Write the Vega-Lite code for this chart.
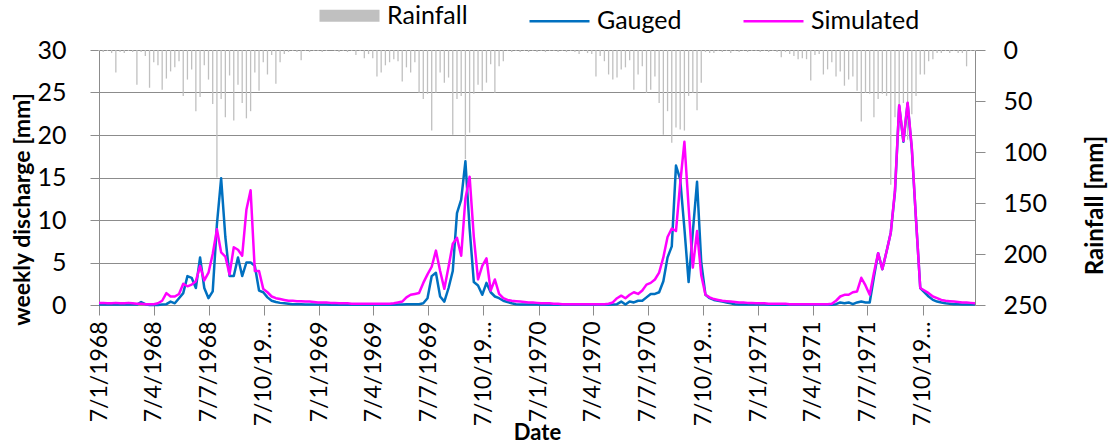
{
  "$schema": "https://vega.github.io/schema/vega-lite/v6.json",
  "width": 876,
  "height": 255,
  "autosize": {"type": "none"},
  "padding": {"left": 99, "top": 50, "right": 141, "bottom": 141},
  "background": "white",
  "config": {
    "font": "Lato",
    "view": {"stroke": null},
    "axis": {
      "domainColor": "#8c8c8c",
      "tickColor": "#8c8c8c",
      "gridColor": "#8c8c8c",
      "labelColor": "#000000",
      "titleColor": "#000000",
      "labelFont": "Lato",
      "titleFont": "Lato"
    }
  },
  "data": {
    "values": [
      {"date": "1968-01-07", "gauged": 0.05, "simulated": 0.25, "rain": 1},
      {"date": "1968-01-14", "gauged": 0.05, "simulated": 0.25, "rain": 2},
      {"date": "1968-01-21", "gauged": 0.05, "simulated": 0.2, "rain": 1},
      {"date": "1968-01-28", "gauged": 0.05, "simulated": 0.2, "rain": 3},
      {"date": "1968-02-04", "gauged": 0.05, "simulated": 0.25, "rain": 22},
      {"date": "1968-02-11", "gauged": 0.05, "simulated": 0.2, "rain": 2},
      {"date": "1968-02-18", "gauged": 0.1, "simulated": 0.2, "rain": 3},
      {"date": "1968-02-25", "gauged": 0.05, "simulated": 0.25, "rain": 1},
      {"date": "1968-03-03", "gauged": 0.05, "simulated": 0.2, "rain": 2},
      {"date": "1968-03-10", "gauged": 0.05, "simulated": 0.15, "rain": 34},
      {"date": "1968-03-17", "gauged": 0.35, "simulated": 0.15, "rain": 2},
      {"date": "1968-03-24", "gauged": 0.1, "simulated": 0.1, "rain": 6},
      {"date": "1968-03-31", "gauged": 0.0, "simulated": 0.1, "rain": 37},
      {"date": "1968-04-07", "gauged": 0.0, "simulated": 0.1, "rain": 12},
      {"date": "1968-04-14", "gauged": 0.0, "simulated": 0.2, "rain": 15},
      {"date": "1968-04-21", "gauged": 0.05, "simulated": 0.5, "rain": 39},
      {"date": "1968-04-28", "gauged": 0.1, "simulated": 1.4, "rain": 28},
      {"date": "1968-05-05", "gauged": 0.4, "simulated": 1.0, "rain": 21},
      {"date": "1968-05-12", "gauged": 0.2, "simulated": 1.0, "rain": 17},
      {"date": "1968-05-19", "gauged": 0.8, "simulated": 1.3, "rain": 11},
      {"date": "1968-05-26", "gauged": 1.4, "simulated": 2.5, "rain": 45},
      {"date": "1968-06-02", "gauged": 3.4, "simulated": 2.2, "rain": 29},
      {"date": "1968-06-09", "gauged": 3.2, "simulated": 2.4, "rain": 19},
      {"date": "1968-06-16", "gauged": 2.0, "simulated": 2.8, "rain": 60},
      {"date": "1968-06-23", "gauged": 5.6, "simulated": 4.6, "rain": 46},
      {"date": "1968-06-30", "gauged": 2.0, "simulated": 2.9, "rain": 15},
      {"date": "1968-07-07", "gauged": 0.8, "simulated": 3.8, "rain": 29},
      {"date": "1968-07-14", "gauged": 1.6, "simulated": 6.0, "rain": 53},
      {"date": "1968-07-21", "gauged": 9.5, "simulated": 8.9, "rain": 125},
      {"date": "1968-07-28", "gauged": 14.9, "simulated": 6.2, "rain": 48},
      {"date": "1968-08-04", "gauged": 8.0, "simulated": 5.7, "rain": 66},
      {"date": "1968-08-11", "gauged": 3.4, "simulated": 3.6, "rain": 25},
      {"date": "1968-08-18", "gauged": 3.4, "simulated": 6.8, "rain": 69},
      {"date": "1968-08-25", "gauged": 5.6, "simulated": 6.5, "rain": 34},
      {"date": "1968-09-01", "gauged": 3.4, "simulated": 5.8, "rain": 52},
      {"date": "1968-09-08", "gauged": 5.0, "simulated": 11.2, "rain": 67},
      {"date": "1968-09-15", "gauged": 5.0, "simulated": 13.5, "rain": 60},
      {"date": "1968-09-22", "gauged": 4.6, "simulated": 4.0, "rain": 22},
      {"date": "1968-09-29", "gauged": 1.7, "simulated": 4.0, "rain": 40},
      {"date": "1968-10-06", "gauged": 1.5, "simulated": 1.9, "rain": 12},
      {"date": "1968-10-13", "gauged": 0.9, "simulated": 1.5, "rain": 24},
      {"date": "1968-10-20", "gauged": 0.5, "simulated": 1.0, "rain": 5},
      {"date": "1968-10-27", "gauged": 0.35, "simulated": 0.8, "rain": 33},
      {"date": "1968-11-03", "gauged": 0.25, "simulated": 0.7, "rain": 12},
      {"date": "1968-11-10", "gauged": 0.2, "simulated": 0.6, "rain": 4},
      {"date": "1968-11-17", "gauged": 0.15, "simulated": 0.5, "rain": 2},
      {"date": "1968-11-24", "gauged": 0.1, "simulated": 0.5, "rain": 1},
      {"date": "1968-12-01", "gauged": 0.1, "simulated": 0.45, "rain": 2},
      {"date": "1968-12-08", "gauged": 0.1, "simulated": 0.45, "rain": 10},
      {"date": "1968-12-15", "gauged": 0.05, "simulated": 0.4, "rain": 1},
      {"date": "1968-12-22", "gauged": 0.05, "simulated": 0.4, "rain": 2},
      {"date": "1968-12-29", "gauged": 0.05, "simulated": 0.35, "rain": 1},
      {"date": "1969-01-05", "gauged": 0.05, "simulated": 0.3, "rain": 1},
      {"date": "1969-01-12", "gauged": 0.05, "simulated": 0.3, "rain": 2},
      {"date": "1969-01-19", "gauged": 0.05, "simulated": 0.3, "rain": 1},
      {"date": "1969-01-26", "gauged": 0.03, "simulated": 0.25, "rain": 0},
      {"date": "1969-02-02", "gauged": 0.03, "simulated": 0.25, "rain": 1},
      {"date": "1969-02-09", "gauged": 0.02, "simulated": 0.2, "rain": 2},
      {"date": "1969-02-16", "gauged": 0.02, "simulated": 0.2, "rain": 1},
      {"date": "1969-02-23", "gauged": 0.02, "simulated": 0.2, "rain": 2},
      {"date": "1969-03-02", "gauged": 0.02, "simulated": 0.15, "rain": 1},
      {"date": "1969-03-09", "gauged": 0.02, "simulated": 0.15, "rain": 5},
      {"date": "1969-03-16", "gauged": 0.02, "simulated": 0.15, "rain": 1},
      {"date": "1969-03-23", "gauged": 0.02, "simulated": 0.15, "rain": 8},
      {"date": "1969-03-30", "gauged": 0.02, "simulated": 0.15, "rain": 4},
      {"date": "1969-04-06", "gauged": 0.02, "simulated": 0.15, "rain": 8},
      {"date": "1969-04-13", "gauged": 0.02, "simulated": 0.15, "rain": 26},
      {"date": "1969-04-20", "gauged": 0.02, "simulated": 0.15, "rain": 22},
      {"date": "1969-04-27", "gauged": 0.02, "simulated": 0.15, "rain": 15},
      {"date": "1969-05-04", "gauged": 0.02, "simulated": 0.15, "rain": 12},
      {"date": "1969-05-11", "gauged": 0.02, "simulated": 0.2, "rain": 9},
      {"date": "1969-05-18", "gauged": 0.05, "simulated": 0.3, "rain": 11},
      {"date": "1969-05-25", "gauged": 0.05, "simulated": 0.4, "rain": 31},
      {"date": "1969-06-01", "gauged": 0.1, "simulated": 0.9, "rain": 17},
      {"date": "1969-06-08", "gauged": 0.1, "simulated": 1.2, "rain": 22},
      {"date": "1969-06-15", "gauged": 0.1, "simulated": 1.3, "rain": 12},
      {"date": "1969-06-22", "gauged": 0.1, "simulated": 1.4, "rain": 42},
      {"date": "1969-06-29", "gauged": 0.2, "simulated": 2.6, "rain": 48},
      {"date": "1969-07-06", "gauged": 0.8, "simulated": 3.6, "rain": 43},
      {"date": "1969-07-13", "gauged": 3.4, "simulated": 4.5, "rain": 79},
      {"date": "1969-07-20", "gauged": 3.8, "simulated": 6.4, "rain": 42},
      {"date": "1969-07-27", "gauged": 1.0, "simulated": 4.0, "rain": 22},
      {"date": "1969-08-03", "gauged": 0.4, "simulated": 1.9, "rain": 32},
      {"date": "1969-08-10", "gauged": 2.0, "simulated": 4.5, "rain": 27},
      {"date": "1969-08-17", "gauged": 4.0, "simulated": 7.2, "rain": 83},
      {"date": "1969-08-24", "gauged": 10.8, "simulated": 7.9, "rain": 48},
      {"date": "1969-08-31", "gauged": 12.4, "simulated": 5.8, "rain": 45},
      {"date": "1969-09-07", "gauged": 16.9, "simulated": 12.5, "rain": 107},
      {"date": "1969-09-14", "gauged": 9.0, "simulated": 15.1, "rain": 81},
      {"date": "1969-09-21", "gauged": 2.7, "simulated": 8.0, "rain": 43},
      {"date": "1969-09-28", "gauged": 2.3, "simulated": 3.0, "rain": 34},
      {"date": "1969-10-05", "gauged": 1.2, "simulated": 4.6, "rain": 40},
      {"date": "1969-10-12", "gauged": 2.6, "simulated": 5.5, "rain": 32},
      {"date": "1969-10-19", "gauged": 1.5, "simulated": 1.7, "rain": 14},
      {"date": "1969-10-26", "gauged": 1.0, "simulated": 3.0, "rain": 42},
      {"date": "1969-11-02", "gauged": 0.8, "simulated": 1.3, "rain": 16},
      {"date": "1969-11-09", "gauged": 0.5, "simulated": 0.8, "rain": 11},
      {"date": "1969-11-16", "gauged": 0.35, "simulated": 0.6, "rain": 1},
      {"date": "1969-11-23", "gauged": 0.2, "simulated": 0.5, "rain": 2},
      {"date": "1969-11-30", "gauged": 0.1, "simulated": 0.45, "rain": 1},
      {"date": "1969-12-07", "gauged": 0.05, "simulated": 0.4, "rain": 2},
      {"date": "1969-12-14", "gauged": 0.05, "simulated": 0.35, "rain": 1},
      {"date": "1969-12-21", "gauged": 0.05, "simulated": 0.3, "rain": 2},
      {"date": "1969-12-28", "gauged": 0.05, "simulated": 0.3, "rain": 1},
      {"date": "1970-01-04", "gauged": 0.05, "simulated": 0.25, "rain": 2},
      {"date": "1970-01-11", "gauged": 0.02, "simulated": 0.2, "rain": 1},
      {"date": "1970-01-18", "gauged": 0.02, "simulated": 0.2, "rain": 2},
      {"date": "1970-01-25", "gauged": 0.02, "simulated": 0.2, "rain": 1},
      {"date": "1970-02-01", "gauged": 0.02, "simulated": 0.15, "rain": 1},
      {"date": "1970-02-08", "gauged": 0.02, "simulated": 0.15, "rain": 2},
      {"date": "1970-02-15", "gauged": 0.02, "simulated": 0.1, "rain": 1},
      {"date": "1970-02-22", "gauged": 0.02, "simulated": 0.1, "rain": 2},
      {"date": "1970-03-01", "gauged": 0.02, "simulated": 0.1, "rain": 1},
      {"date": "1970-03-08", "gauged": 0.02, "simulated": 0.1, "rain": 2},
      {"date": "1970-03-15", "gauged": 0.02, "simulated": 0.1, "rain": 4},
      {"date": "1970-03-22", "gauged": 0.02, "simulated": 0.1, "rain": 1},
      {"date": "1970-03-29", "gauged": 0.02, "simulated": 0.1, "rain": 3},
      {"date": "1970-04-05", "gauged": 0.02, "simulated": 0.1, "rain": 4},
      {"date": "1970-04-12", "gauged": 0.02, "simulated": 0.1, "rain": 26},
      {"date": "1970-04-19", "gauged": 0.02, "simulated": 0.1, "rain": 6},
      {"date": "1970-04-26", "gauged": 0.02, "simulated": 0.1, "rain": 11},
      {"date": "1970-05-03", "gauged": 0.02, "simulated": 0.15, "rain": 24},
      {"date": "1970-05-10", "gauged": 0.05, "simulated": 0.3, "rain": 29},
      {"date": "1970-05-17", "gauged": 0.1, "simulated": 0.8, "rain": 27},
      {"date": "1970-05-24", "gauged": 0.4, "simulated": 1.1, "rain": 19},
      {"date": "1970-05-31", "gauged": 0.05, "simulated": 0.8, "rain": 17},
      {"date": "1970-06-07", "gauged": 0.4, "simulated": 1.2, "rain": 10},
      {"date": "1970-06-14", "gauged": 0.3, "simulated": 1.5, "rain": 39},
      {"date": "1970-06-21", "gauged": 0.5, "simulated": 1.3, "rain": 24},
      {"date": "1970-06-28", "gauged": 0.5, "simulated": 1.7, "rain": 16},
      {"date": "1970-07-05", "gauged": 0.9, "simulated": 2.4, "rain": 42},
      {"date": "1970-07-12", "gauged": 1.3, "simulated": 2.6, "rain": 39},
      {"date": "1970-07-19", "gauged": 1.3, "simulated": 3.0, "rain": 26},
      {"date": "1970-07-26", "gauged": 1.5, "simulated": 3.8, "rain": 52},
      {"date": "1970-08-02", "gauged": 2.8, "simulated": 5.6, "rain": 83},
      {"date": "1970-08-09", "gauged": 5.6, "simulated": 8.0, "rain": 60},
      {"date": "1970-08-16", "gauged": 6.9, "simulated": 9.0, "rain": 91},
      {"date": "1970-08-23", "gauged": 16.4, "simulated": 8.7, "rain": 76},
      {"date": "1970-08-30", "gauged": 14.8, "simulated": 14.3, "rain": 78},
      {"date": "1970-09-06", "gauged": 9.0, "simulated": 19.2, "rain": 79},
      {"date": "1970-09-13", "gauged": 2.7, "simulated": 11.5, "rain": 45},
      {"date": "1970-09-20", "gauged": 8.6, "simulated": 4.4, "rain": 42},
      {"date": "1970-09-27", "gauged": 14.5, "simulated": 8.7, "rain": 59},
      {"date": "1970-10-04", "gauged": 5.0, "simulated": 3.5, "rain": 32},
      {"date": "1970-10-11", "gauged": 1.2, "simulated": 1.2, "rain": 2},
      {"date": "1970-10-18", "gauged": 0.8, "simulated": 0.9, "rain": 3},
      {"date": "1970-10-25", "gauged": 0.6, "simulated": 0.7, "rain": 3},
      {"date": "1970-11-01", "gauged": 0.5, "simulated": 0.6, "rain": 1},
      {"date": "1970-11-08", "gauged": 0.4, "simulated": 0.5, "rain": 2},
      {"date": "1970-11-15", "gauged": 0.3, "simulated": 0.45, "rain": 1},
      {"date": "1970-11-22", "gauged": 0.2, "simulated": 0.4, "rain": 3},
      {"date": "1970-11-29", "gauged": 0.1, "simulated": 0.35, "rain": 1},
      {"date": "1970-12-06", "gauged": 0.05, "simulated": 0.3, "rain": 2},
      {"date": "1970-12-13", "gauged": 0.05, "simulated": 0.3, "rain": 1},
      {"date": "1970-12-20", "gauged": 0.05, "simulated": 0.25, "rain": 2},
      {"date": "1970-12-27", "gauged": 0.05, "simulated": 0.25, "rain": 1},
      {"date": "1971-01-03", "gauged": 0.05, "simulated": 0.2, "rain": 1},
      {"date": "1971-01-10", "gauged": 0.05, "simulated": 0.2, "rain": 2},
      {"date": "1971-01-17", "gauged": 0.05, "simulated": 0.2, "rain": 1},
      {"date": "1971-01-24", "gauged": 0.02, "simulated": 0.15, "rain": 2},
      {"date": "1971-01-31", "gauged": 0.02, "simulated": 0.15, "rain": 1},
      {"date": "1971-02-07", "gauged": 0.02, "simulated": 0.15, "rain": 2},
      {"date": "1971-02-14", "gauged": 0.02, "simulated": 0.15, "rain": 7},
      {"date": "1971-02-21", "gauged": 0.02, "simulated": 0.15, "rain": 2},
      {"date": "1971-02-28", "gauged": 0.02, "simulated": 0.1, "rain": 4},
      {"date": "1971-03-07", "gauged": 0.02, "simulated": 0.1, "rain": 6},
      {"date": "1971-03-14", "gauged": 0.02, "simulated": 0.1, "rain": 9},
      {"date": "1971-03-21", "gauged": 0.02, "simulated": 0.1, "rain": 8},
      {"date": "1971-03-28", "gauged": 0.02, "simulated": 0.1, "rain": 9},
      {"date": "1971-04-04", "gauged": 0.02, "simulated": 0.1, "rain": 30},
      {"date": "1971-04-11", "gauged": 0.02, "simulated": 0.1, "rain": 5},
      {"date": "1971-04-18", "gauged": 0.02, "simulated": 0.1, "rain": 4},
      {"date": "1971-04-25", "gauged": 0.02, "simulated": 0.1, "rain": 24},
      {"date": "1971-05-02", "gauged": 0.02, "simulated": 0.1, "rain": 19},
      {"date": "1971-05-09", "gauged": 0.02, "simulated": 0.15, "rain": 12},
      {"date": "1971-05-16", "gauged": 0.1, "simulated": 0.5, "rain": 26},
      {"date": "1971-05-23", "gauged": 0.3, "simulated": 1.0, "rain": 21},
      {"date": "1971-05-30", "gauged": 0.2, "simulated": 1.2, "rain": 35},
      {"date": "1971-06-06", "gauged": 0.3, "simulated": 1.2, "rain": 29},
      {"date": "1971-06-13", "gauged": 0.1, "simulated": 1.5, "rain": 26},
      {"date": "1971-06-20", "gauged": 0.3, "simulated": 1.6, "rain": 40},
      {"date": "1971-06-27", "gauged": 0.4, "simulated": 3.2, "rain": 70},
      {"date": "1971-07-04", "gauged": 0.3, "simulated": 2.3, "rain": 42},
      {"date": "1971-07-11", "gauged": 0.3, "simulated": 1.2, "rain": 43},
      {"date": "1971-07-18", "gauged": 3.3, "simulated": 3.8, "rain": 66},
      {"date": "1971-07-25", "gauged": 6.1, "simulated": 6.1, "rain": 48},
      {"date": "1971-08-01", "gauged": 4.2, "simulated": 4.2, "rain": 43},
      {"date": "1971-08-08", "gauged": 6.3, "simulated": 6.3, "rain": 45},
      {"date": "1971-08-15", "gauged": 8.5, "simulated": 8.5, "rain": 132},
      {"date": "1971-08-22", "gauged": 13.3, "simulated": 13.5, "rain": 66},
      {"date": "1971-08-29", "gauged": 23.4, "simulated": 23.5, "rain": 55},
      {"date": "1971-09-05", "gauged": 19.2, "simulated": 19.3, "rain": 52},
      {"date": "1971-09-12", "gauged": 23.7, "simulated": 23.8, "rain": 88},
      {"date": "1971-09-19", "gauged": 18.3, "simulated": 18.5, "rain": 63},
      {"date": "1971-09-26", "gauged": 10.0, "simulated": 10.0, "rain": 45},
      {"date": "1971-10-03", "gauged": 2.0, "simulated": 2.0, "rain": 24},
      {"date": "1971-10-10", "gauged": 1.5, "simulated": 1.7, "rain": 24},
      {"date": "1971-10-17", "gauged": 1.0, "simulated": 1.4, "rain": 11},
      {"date": "1971-10-24", "gauged": 0.6, "simulated": 1.0, "rain": 9},
      {"date": "1971-10-31", "gauged": 0.4, "simulated": 0.8, "rain": 3},
      {"date": "1971-11-07", "gauged": 0.3, "simulated": 0.6, "rain": 3},
      {"date": "1971-11-14", "gauged": 0.2, "simulated": 0.5, "rain": 1},
      {"date": "1971-11-21", "gauged": 0.15, "simulated": 0.45, "rain": 3},
      {"date": "1971-11-28", "gauged": 0.1, "simulated": 0.4, "rain": 1},
      {"date": "1971-12-05", "gauged": 0.1, "simulated": 0.35, "rain": 3},
      {"date": "1971-12-12", "gauged": 0.05, "simulated": 0.3, "rain": 3},
      {"date": "1971-12-19", "gauged": 0.05, "simulated": 0.3, "rain": 16},
      {"date": "1971-12-26", "gauged": 0.05, "simulated": 0.25, "rain": 1},
      {"date": "1972-01-02", "gauged": 0.05, "simulated": 0.2, "rain": 1}
    ]
  },
  "encoding": {
    "x": {
      "field": "date",
      "type": "temporal",
      "title": "Date",
      "scale": {
        "type": "utc",
        "nice": false,
        "domain": [
          {"year": 1968, "month": 1, "date": 7, "utc": true},
          {"year": 1972, "month": 1, "date": 2, "utc": true}
        ]
      },
      "axis": {
        "values": [
          {"year": 1968, "month": 1, "date": 7, "utc": true},
          {"year": 1968, "month": 4, "date": 7, "utc": true},
          {"year": 1968, "month": 7, "date": 7, "utc": true},
          {"year": 1968, "month": 10, "date": 7, "utc": true},
          {"year": 1969, "month": 1, "date": 7, "utc": true},
          {"year": 1969, "month": 4, "date": 7, "utc": true},
          {"year": 1969, "month": 7, "date": 7, "utc": true},
          {"year": 1969, "month": 10, "date": 7, "utc": true},
          {"year": 1970, "month": 1, "date": 7, "utc": true},
          {"year": 1970, "month": 4, "date": 7, "utc": true},
          {"year": 1970, "month": 7, "date": 7, "utc": true},
          {"year": 1970, "month": 10, "date": 7, "utc": true},
          {"year": 1971, "month": 1, "date": 7, "utc": true},
          {"year": 1971, "month": 4, "date": 7, "utc": true},
          {"year": 1971, "month": 7, "date": 7, "utc": true},
          {"year": 1971, "month": 10, "date": 7, "utc": true}
        ],
        "labelExpr": "utcmonth(datum.value) === 9 ? '7/10/19…' : utcFormat(datum.value, '%-d/%-m/%Y')",
        "labelAngle": 270,
        "labelFontSize": 23,
        "labelPadding": 6,
        "tickSize": 10,
        "grid": false,
        "labelOverlap": false,
        "labelFlush": false,
        "titleFontSize": 22,
        "titleFontWeight": "bold",
        "titleBaseline": "alphabetic",
        "titleY": 134
      }
    }
  },
  "layer": [
    {
      "mark": {"type": "rule", "strokeWidth": 1.3},
      "encoding": {
        "y": {
          "field": "rain",
          "type": "quantitative",
          "scale": {"domain": [0, 250], "reverse": true, "nice": false, "zero": true},
          "axis": {
            "orient": "right",
            "values": [0, 50, 100, 150, 200, 250],
            "grid": false,
            "tickSize": 10,
            "labelPadding": 18,
            "labelFontSize": 25,
            "title": "Rainfall [mm]",
            "titleFontSize": 24,
            "titleFontWeight": "bold",
            "titleAngle": 270,
            "titleAlign": "center",
            "titleBaseline": "middle",
            "titleX": 120,
            "titleY": 155
          }
        },
        "y2": {"datum": 0},
        "color": {
          "datum": "Rainfall",
          "type": "nominal",
          "scale": {
            "domain": ["Rainfall", "Gauged", "Simulated"],
            "range": ["#c0c0c0", "#0070c0", "#ff00ff"]
          },
          "legend": {
            "orient": "none",
            "legendX": 238,
            "legendY": -47,
            "direction": "horizontal",
            "title": null,
            "symbolType": "stroke",
            "symbolSize": 3600,
            "symbolStrokeWidth": 2.5,
            "labelFontSize": 25,
            "labelFont": "Lato",
            "labelColor": "#000000",
            "labelOffset": 25,
            "columnPadding": 56,
            "encode": {
              "symbols": {
                "update": {
                  "strokeWidth": {"signal": "datum.value === 'Rainfall' ? 12 : 2.5"}
                }
              }
            }
          }
        }
      }
    },
    {
      "layer": [
        {
          "mark": {"type": "line", "strokeWidth": 2.5, "strokeJoin": "round"},
          "encoding": {
            "y": {
              "field": "gauged",
              "type": "quantitative",
              "scale": {"domain": [0, 30], "nice": false},
              "axis": {
                "orient": "left",
                "values": [0, 5, 10, 15, 20, 25, 30],
                "grid": true,
                "tickSize": 9,
                "labelPadding": 24,
                "labelFontSize": 25,
                "title": "weekly discharge [mm]",
                "titleFontSize": 23,
                "titleFontWeight": "bold",
                "titleAngle": 270,
                "titleAlign": "center",
                "titleBaseline": "middle",
                "titleX": -77,
                "titleY": 159
              }
            },
            "color": {"datum": "Gauged", "type": "nominal"}
          }
        },
        {
          "mark": {"type": "line", "strokeWidth": 2.5, "strokeJoin": "round"},
          "encoding": {
            "y": {"field": "simulated", "type": "quantitative"},
            "color": {"datum": "Simulated", "type": "nominal"}
          }
        }
      ]
    }
  ],
  "resolve": {"scale": {"y": "independent"}}
}
